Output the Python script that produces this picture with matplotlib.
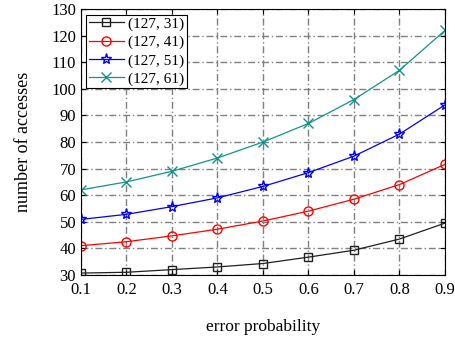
import matplotlib
matplotlib.use('Agg')
import matplotlib.pyplot as plt

plt.rcParams['font.family'] = ['Liberation Serif', 'DejaVu Serif']

# error probability on the x axis
p = [0.1, 0.2, 0.3, 0.4, 0.5, 0.6, 0.7, 0.8, 0.9]

# number of accesses for each code
acc_31 = [30.7, 31.0, 32.0, 33.0, 34.3, 36.7, 39.3, 43.5, 49.5]
acc_41 = [41.0, 42.5, 44.7, 47.2, 50.3, 54.0, 58.5, 64.0, 71.6]
acc_51 = [50.9, 52.8, 55.7, 59.0, 63.3, 68.5, 74.7, 83.0, 94.0]
acc_61 = [62.0, 65.0, 69.0, 74.0, 80.0, 87.0, 96.0, 107.0, 122.0]
labels = ['(127, 31)', '(127, 41)', '(127, 51)', '(127, 61)']

fig = plt.figure(figsize=(4.55, 3.39), dpi=100)
ax = fig.add_axes([0.178, 0.189, 0.8, 0.784])

ax.plot(p, acc_31, '-s', color='#202020', mfc='none', ms=5.5, lw=0.9, label=labels[0])
ax.plot(p, acc_41, '-o', color='red', mfc='none', ms=6.5, lw=0.9, label=labels[1])
ax.plot(p, acc_51, '-*', color='blue', mfc='none', ms=8, lw=0.9, label=labels[2])
ax.plot(p, acc_61, '-x', color='#10948c', ms=6.5, lw=0.9, label=labels[3])

ax.set_xlim(0.1, 0.9)
ax.set_ylim(30, 130)
ax.set_xticks(p)
ax.set_yticks(range(30, 131, 10))
ax.tick_params(direction='in', labelsize=12, top=True, right=True)
ax.tick_params(axis='x', pad=5)
ax.grid(True, color='#808080', lw=1.0, ls=(0, (5, 2, 1, 2)))
ax.set_xlabel('error probability', fontsize=12.5, labelpad=15)
ax.set_ylabel('number of accesses', fontsize=13, labelpad=14)

leg = ax.legend(loc='upper left', fontsize=11, fancybox=False, framealpha=1,
                edgecolor='black', borderpad=0.15, labelspacing=0.3,
                handlelength=2.3, handletextpad=0.3, borderaxespad=0.35)
leg.get_frame().set_linewidth(0.8)

plt.savefig('out.png')
